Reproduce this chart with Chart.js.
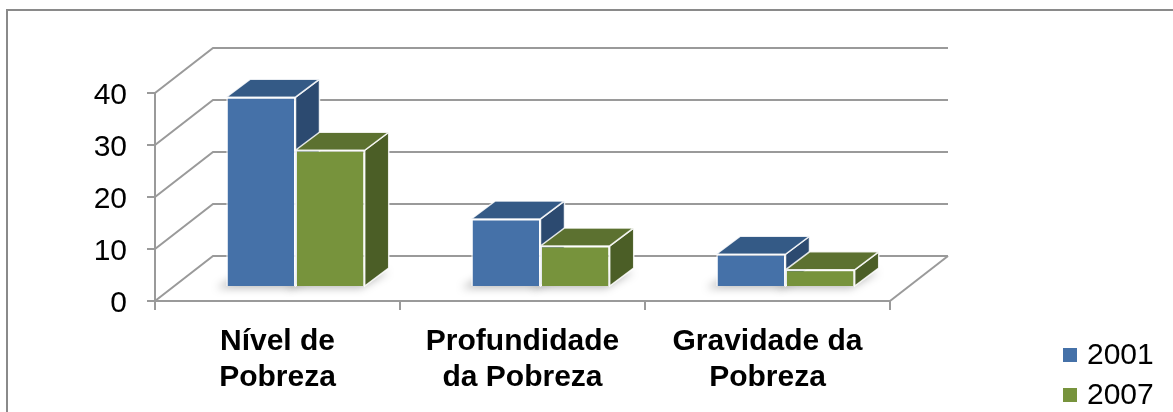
<html>
<head>
	<meta charset="utf-8">
	<title>Pobreza 2001 / 2007</title>
	<script src="https://cdn.jsdelivr.net/npm/chart.js@4/dist/chart.umd.min.js"></script>
	<style>
		body { margin: 0; background: #fff; }
		#box { width: 1173px; height: 412px; }
	</style>
</head>
<body>
	<div id="box">
		<canvas id="myChart"></canvas>
	</div>

	<script>

		// categorias, valores
		var categorias = [['Nível de', 'Pobreza'], ['Profundidade', 'da Pobreza'], ['Gravidade da', 'Pobreza']];
		var anos = ['2001', '2007'];
		var valores2001 = [36.5, 13.1, 6.3];
		var valores2007 = [26.3, 7.9, 3.3];
		var ticksY = [0, 10, 20, 30, 40];

		// cores: frente, topo, lado
		var coresFrente = ['#4571a8', '#77933c'];
		var coresTopo = ['#345a86', '#5c7130'];
		var coresLado = ['#2c4a70', '#4b5e26'];

		// profundidade 3D
		var PX = 58, PY = -45;        // parede do fundo
		var OX = 18, OY = -14;        // plano das barras
		var BX = 24, BY = -18;        // espessura das barras

		var fonte = 'Arial, "Liberation Sans", sans-serif';

		function poly(ctx, pts, fill, stroke) {
			ctx.beginPath();
			ctx.moveTo(pts[0][0], pts[0][1]);
			for (var i = 1; i < pts.length; i++) ctx.lineTo(pts[i][0], pts[i][1]);
			ctx.closePath();
			if (fill) { ctx.fillStyle = fill; ctx.fill(); }
			if (stroke) { ctx.strokeStyle = stroke; ctx.lineWidth = 1.5; ctx.stroke(); }
		}

		var plugin3d = {
			id: 'plugin3d',
			beforeDraw: function(chart) {
				var ctx = chart.ctx;
				ctx.save();
				ctx.fillStyle = '#fff';
				ctx.fillRect(0, 0, chart.width, chart.height);
				ctx.strokeStyle = '#8a8a8a';
				ctx.lineWidth = 2;
				ctx.strokeRect(7, 10, 1400, 600);
				ctx.restore();
			},
			beforeDatasetsDraw: function(chart) {
				var ctx = chart.ctx;
				var a = chart.chartArea;
				var y = chart.scales.y;

				// paredes
				ctx.save();
				ctx.strokeStyle = '#9a9a9a';
				ctx.lineWidth = 2;
				for (var i = 0; i < ticksY.length; i++) {
					var py = y.getPixelForValue(ticksY[i]);
					ctx.beginPath();
					ctx.moveTo(a.left, py);
					ctx.lineTo(a.left + PX, py + PY);
					ctx.lineTo(a.right + PX, py + PY);
					ctx.stroke();
				}
				ctx.beginPath();
				ctx.moveTo(a.right, a.bottom);
				ctx.lineTo(a.right + PX, a.bottom + PY);
				ctx.stroke();
				ctx.restore();

				ctx.save();
				ctx.translate(OX, OY);

				// sombras
				for (var d = 0; d < chart.data.datasets.length; d++) {
					var meta = chart.getDatasetMeta(d);
					meta.data.forEach(function(el) {
						var l = el.x - el.width / 2, r = el.x + el.width / 2, b = el.base;
						ctx.save();
						ctx.filter = 'blur(4px)';
						poly(ctx, [[l - 10, b + 2], [r - 4, b + 2], [r + BX, b + BY + 4], [l + BX - 6, b + BY + 4]], 'rgba(0,0,0,0.28)');
						ctx.restore();
					});
				}

				// topo e lado
				for (var d = 0; d < chart.data.datasets.length; d++) {
					var meta = chart.getDatasetMeta(d);
					meta.data.forEach(function(el) {
						var l = el.x - el.width / 2, r = el.x + el.width / 2, t = el.y, b = el.base;
						poly(ctx, [[r, t], [r + BX, t + BY], [r + BX, b + BY], [r, b]], coresLado[d], 'rgba(255,255,255,0.85)');
						poly(ctx, [[l, t], [r, t], [r + BX, t + BY], [l + BX, t + BY]], coresTopo[d], 'rgba(255,255,255,0.85)');
					});
				}
			},
			afterDatasetsDraw: function(chart) {
				chart.ctx.restore();
			},
			afterDraw: function(chart) {
				// legenda
				var ctx = chart.ctx;
				ctx.save();
				ctx.font = '30px ' + fonte;
				ctx.textBaseline = 'middle';
				ctx.fillStyle = '#000';
				for (var i = 0; i < anos.length; i++) {
					var yy = 355 + i * 40;
					ctx.fillStyle = coresFrente[i];
					ctx.fillRect(1063, yy - 7, 14, 14);
					ctx.fillStyle = '#000';
					ctx.fillText(anos[i], 1087, yy + 1);
				}
				ctx.restore();
			}
		};

		var ctx = document.getElementById('myChart').getContext('2d');
		var chart = new Chart(ctx, {
			type: 'bar',
			data: {
				labels: categorias,
				datasets: [{
					label: anos[0],
					data: valores2001,
					backgroundColor: coresFrente[0],
					borderColor: 'rgba(255,255,255,0.85)',
					borderWidth: 1.5,
					clip: false
				},
				{
					label: anos[1],
					data: valores2007,
					backgroundColor: coresFrente[1],
					borderColor: 'rgba(255,255,255,0.85)',
					borderWidth: 1.5,
					clip: false
				}]
			},
			options: {
				responsive: true,
				maintainAspectRatio: false,
				animation: false,
				categoryPercentage: 0.565,
				barPercentage: 1.0,
				layout: {
					padding: { top: 93, right: 283, bottom: 0, left: 0 }
				},
				plugins: {
					legend: { display: false },
					tooltip: { enabled: false }
				},
				scales: {
					y: {
						min: 0,
						max: 40,
						afterFit: function(s) { s.width = 155; },
						ticks: {
							stepSize: 10,
							padding: 20,
							labelOffset: 3,
							color: '#000',
							font: { family: fonte, size: 30 }
						},
						grid: { drawOnChartArea: false, tickLength: 8, color: '#9a9a9a', lineWidth: 2 },
						border: { color: '#9a9a9a', width: 2 }
					},
					x: {
						afterFit: function(s) { s.height = 111; },
						ticks: {
							padding: 14,
							color: '#000',
							maxRotation: 0,
							autoSkip: false,
							font: { family: fonte, size: 30, weight: 'bold', lineHeight: 1.2 }
						},
						grid: { drawOnChartArea: false, tickLength: 9, color: '#9a9a9a', lineWidth: 2 },
						border: { color: '#9a9a9a', width: 2 }
					}
				}
			},
			plugins: [plugin3d]
		});

	</script>
</body>
</html>
